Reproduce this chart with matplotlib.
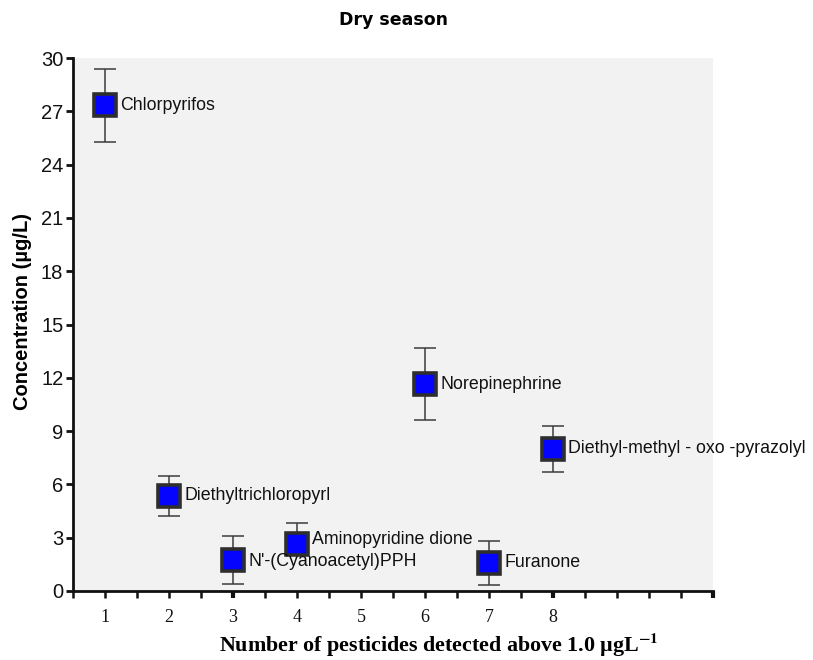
import numpy as np
import matplotlib.pyplot as plt

plt.rcParams['mathtext.fontset'] = 'stix'

# pesticide position, mean concentration and error bar ends (ug/L)
names = ['Chlorpyrifos', 'Diethyltrichloropyrl', "N'-(Cyanoacetyl)PPH", 'Aminopyridine dione',
         'Norepinephrine', 'Furanone', 'Diethyl-methyl - oxo -pyrazolyl']
pos = [1, 2, 3, 4, 6, 7, 8]
conc = [27.35, 5.35, 1.75, 2.65, 11.65, 1.6, 8.0]
err_low = [2.05, 1.15, 1.35, 0.6, 2.05, 1.25, 1.3]
err_high = [2.05, 1.15, 1.35, 1.2, 2.05, 1.2, 1.3]
label_dy = [0, 0, -1, 3, 0, 0, 0]  # small vertical nudges of the labels (points)

xtick_labels = ['1', '2', '3', '4', '5', '6', '7', '8']

fig = plt.figure(figsize=(8.13, 6.6), dpi=100)
ax = fig.add_axes([73 / 813, 1 - 591 / 660, 640 / 813, 533 / 660])
ax.set_facecolor('#f2f2f2')

ax.errorbar(pos, conc, yerr=[err_low, err_high], fmt='none', ecolor='#3c3c3c',
            elinewidth=1.1, capsize=8, capthick=1.1, zorder=2)
ax.plot(pos, conc, 's', markersize=16, markerfacecolor='#0505ff',
        markeredgecolor='#2e2e2e', markeredgewidth=2.6, zorder=3)

for n, x, y, dy in zip(names, pos, conc, label_dy):
    ax.annotate(n, (x, y), xytext=(11, dy), textcoords='offset points', va='center',
                ha='left', fontsize=12.8, family='Liberation Sans', color='#111111', zorder=4)

ax.set_xlim(0.5, 10.5)
ax.set_ylim(0, 30)

for s in ['top', 'right']:
    ax.spines[s].set_visible(False)
for s in ['left', 'bottom']:
    ax.spines[s].set_linewidth(2)
    ax.spines[s].set_color('#111111')

# y axis
ax.set_yticks(np.arange(0, 31, 3))
ax.tick_params(axis='y', length=5, width=2, pad=2, labelsize=14.5, colors='#111111')
for t in ax.get_yticklabels():
    t.set_family('Liberation Sans')

# x axis: ticks every half unit, labels only at 1..8
xt = np.arange(0.5, 10.51, 0.5)
ax.set_xticks(xt)
lab = []
for v in xt:
    if v == int(v) and 1 <= v <= 8:
        lab.append(xtick_labels[int(v) - 1])
    else:
        lab.append('')
ax.set_xticklabels(lab, family='Liberation Serif', fontsize=13)
ax.tick_params(axis='x', length=5, width=1.8, pad=8, colors='#111111')
for v, tk in zip(xt, ax.xaxis.get_major_ticks()):
    if v in (3, 8, 10.5):
        tk.tick1line.set_markeredgewidth(3)

ax.set_ylabel('Concentration (µg/L)', fontsize=14.5, fontweight='bold',
              family='Liberation Sans')
ax.yaxis.set_label_coords(-0.064, 0.525)

fig.text(439 / 813, 1 - 645 / 660, r'Number of pesticides detected above 1.0 µgL$^{\mathbf{-1}}$',
         ha='center', va='center', fontsize=15.8, fontweight='bold', family='Liberation Serif')

fig.text(393 / 813, 1 - 20 / 660, 'Dry season', ha='center', va='center',
         fontsize=12.5, fontweight='bold', family='DejaVu Sans')

plt.savefig('out.png', dpi=100)
